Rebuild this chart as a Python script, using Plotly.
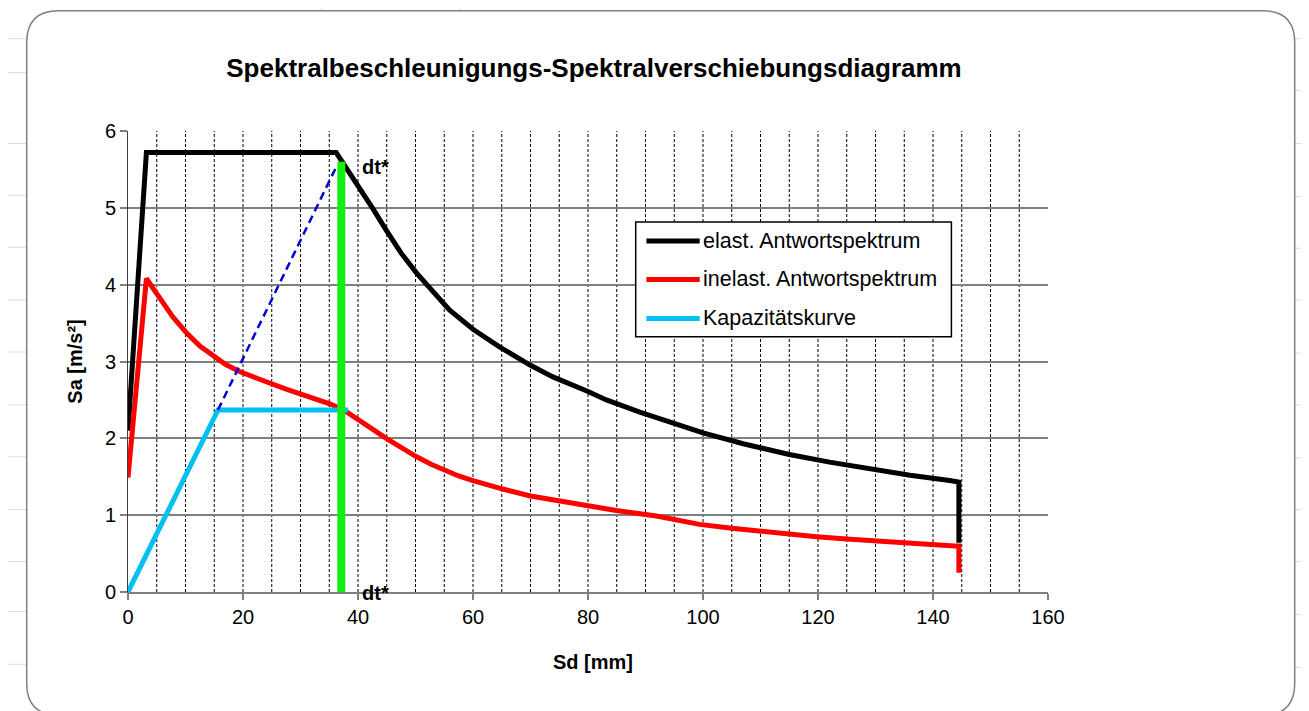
import plotly.graph_objects as go

# ---------------- data ----------------
sd_elastic = [0, 3.2, 36.2, 38.0, 40.0, 42.5, 44.9, 47.5, 50.2, 52.8, 55.9, 60.0, 64.6, 70.0, 73.9, 80.0,
              83.2, 89.0, 95.0, 100, 107, 115, 122, 129.6, 136, 142.9, 144.5, 144.5]
sa_elastic = [2.1, 5.72, 5.72, 5.52, 5.30, 5.00, 4.71, 4.41, 4.15, 3.92, 3.67, 3.42, 3.19, 2.95, 2.80, 2.61,
              2.50, 2.34, 2.19, 2.07, 1.93, 1.79, 1.69, 1.59, 1.52, 1.45, 1.43, 0.64]

sd_inelastic = [0, 3.2, 4.2, 5.5, 6.5, 7.8, 9.0, 10.2, 12.5, 15.4, 17.0, 19.4, 22.0, 24.6, 27.5, 30.4, 33.0,
                35.1, 37.5, 40.9, 42.9, 44.9, 47.5, 50.2, 52.8, 55.4, 57.5, 60, 62.5, 65.2, 70, 75.1, 80,
                84.9, 91.9, 95, 99.4, 105, 109.8, 115, 119.7, 125, 130.2, 137, 143.8, 144.5, 144.5]
sa_inelastic = [1.49, 4.08, 3.97, 3.84, 3.72, 3.58, 3.47, 3.37, 3.20, 3.04, 2.96, 2.87, 2.79, 2.72, 2.64, 2.57, 2.50,
                2.45, 2.37, 2.21, 2.10, 2.00, 1.88, 1.76, 1.66, 1.57, 1.51, 1.45, 1.39, 1.34, 1.25, 1.18, 1.12,
                1.06, 0.99, 0.94, 0.88, 0.83, 0.79, 0.75, 0.72, 0.69, 0.67, 0.63, 0.60, 0.60, 0.25]

sd_capacity = [0, 15.65, 38.3]
sa_capacity = [0, 2.37, 2.37]

sd_dashed = [15.65, 36.2]
sa_dashed = [2.37, 5.53]

sd_dt = [37.1, 37.1]
sa_dt = [0, 5.6]

legend_names = ["elast. Antwortspektrum", "inelast. Antwortspektrum", "Kapazitätskurve"]
x_ticks = [0, 20, 40, 60, 80, 100, 120, 140, 160]
x_grid = [5, 10, 15, 20, 25, 30, 35, 40, 45, 50, 55, 60, 65, 70, 75, 80, 85, 90, 95, 100,
          105, 110, 115, 120, 125, 130, 135, 140, 145, 150, 155]
y_ticks = [0, 1, 2, 3, 4, 5, 6]

title_text = "Spektralbeschleunigungs-Spektralverschiebungsdiagramm"
x_title = "Sd [mm]"
y_title = "Sa [m/s²]"

# ---------------- layout geometry (screen pixels; page body has an 8px margin) ----------------
OFF = 8
W, H = 1309, 711
PL, PR, PT, PB = 128.3, 1048.3, 130.5, 592.5
FONT = "Arial, 'Liberation Sans', sans-serif"


def px(x):
    return (x - PL) / (PR - PL)


def py(y):
    return (PB - y) / (PB - PT)


fig = go.Figure()

fig.add_trace(go.Scatter(x=sd_elastic, y=sa_elastic, mode="lines",
                         line=dict(color="#000000", width=5), name=legend_names[0], showlegend=False))
fig.add_trace(go.Scatter(x=sd_inelastic, y=sa_inelastic, mode="lines",
                         line=dict(color="#ff0000", width=5), name=legend_names[1], showlegend=False))
fig.add_trace(go.Scatter(x=sd_capacity, y=sa_capacity, mode="lines",
                         line=dict(color="#00c0f0", width=5), name=legend_names[2], showlegend=False))
fig.add_trace(go.Scatter(x=sd_dashed, y=sa_dashed, mode="lines",
                         line=dict(color="#0000dd", width=2.5, dash="8px,5px"), showlegend=False))
fig.add_trace(go.Scatter(x=sd_dt, y=sa_dt, mode="lines",
                         line=dict(color="#11ee11", width=8), showlegend=False))

shapes = []
# vertical dashed gridlines (none at 160 in the reference)
for gx in x_grid:
    shapes.append(dict(type="line", xref="x", yref="paper", x0=gx, x1=gx, y0=0, y1=1,
                       line=dict(color="#000000", width=1, dash="3px,2px"), layer="below"))

# spreadsheet background lines
grid_col = "#dcdcdc"
for yy in [38, 72, 143, 195, 247, 300, 352, 405, 457, 510, 562, 612, 665]:
    shapes.append(dict(type="line", xref="paper", yref="paper", x0=px(0), x1=px(27), y0=py(yy), y1=py(yy),
                       line=dict(color=grid_col, width=1), layer="below"))
for yy in [38, 90, 143, 196, 248, 300, 353, 405, 458, 510, 562, 615, 668]:
    shapes.append(dict(type="line", xref="paper", yref="paper", x0=px(1295), x1=px(1320), y0=py(yy), y1=py(yy),
                       line=dict(color=grid_col, width=1), layer="below"))
for xx in [322, 461]:
    shapes.append(dict(type="line", xref="paper", yref="paper", x0=px(xx), x1=px(xx), y0=py(0), y1=py(10),
                       line=dict(color=grid_col, width=1), layer="below"))

# rounded chart frame
L, T, R, B, r = 27, 10, 1295, 716, 32
path = (f"M {px(L + r)},{py(B)} Q {px(L)},{py(B)} {px(L)},{py(B - r)} "
        f"L {px(L)},{py(T + r)} Q {px(L)},{py(T)} {px(L + r)},{py(T)} "
        f"L {px(R - r)},{py(T)} Q {px(R)},{py(T)} {px(R)},{py(T + r)} "
        f"L {px(R)},{py(B - r)} Q {px(R)},{py(B)} {px(R - r)},{py(B)}")
shapes.append(dict(type="path", xref="paper", yref="paper", path=path,
                   line=dict(color="#808080", width=1.5), layer="below"))

# custom legend
lx0, ly0, lx1, ly1 = 636, 221.7, 951.7, 336.7
shapes.append(dict(type="rect", xref="paper", yref="paper", x0=px(lx0), x1=px(lx1), y0=py(ly0), y1=py(ly1),
                   line=dict(color="#000000", width=1.5), fillcolor="white", layer="above"))
leg_colors = ["#000000", "#ff0000", "#00c0f0"]
leg_y = [240.7, 279.3, 318.3]
annotations = []
for name, c, yy in zip(legend_names, leg_colors, leg_y):
    shapes.append(dict(type="line", xref="paper", yref="paper", x0=px(646.7), x1=px(700), y0=py(yy), y1=py(yy),
                       line=dict(color=c, width=5), layer="above"))
    annotations.append(dict(xref="paper", yref="paper", x=px(701), y=py(yy), text=name, showarrow=False,
                            xanchor="left", yanchor="middle", font=dict(family=FONT, size=21.5, color="#000000")))

# dt* labels
annotations.append(dict(x=sd_dt[0], y=sa_dt[1], text="<b>dt*</b>", showarrow=False, xanchor="left",
                        yanchor="middle", xshift=19, yshift=-5, font=dict(family=FONT, size=20, color="#000000")))
annotations.append(dict(x=sd_dt[0], y=sa_dt[0], text="<b>dt*</b>", showarrow=False, xanchor="left",
                        yanchor="middle", xshift=19, yshift=-1, font=dict(family=FONT, size=20, color="#000000")))

# axis titles
annotations.append(dict(xref="paper", yref="paper", x=px(593), y=py(663), text=f"<b>{x_title}</b>",
                        showarrow=False, xanchor="center", yanchor="middle",
                        font=dict(family=FONT, size=20, color="#000000")))
annotations.append(dict(xref="paper", yref="paper", x=px(75), y=py(362), text=f"<b>{y_title}</b>",
                        showarrow=False, xanchor="center", yanchor="middle", textangle=-90,
                        font=dict(family=FONT, size=20, color="#000000")))

fig.update_layout(
    width=W, height=H,
    margin=dict(l=PL - OFF, r=W - (PR - OFF), t=PT - OFF, b=H - (PB - OFF), autoexpand=False),
    paper_bgcolor="white", plot_bgcolor="white",
    title=dict(text=f"<b>{title_text}</b>", x=(594 - OFF) / W, xanchor="center", y=1 - (68 - OFF) / H,
               yanchor="middle", yref="container", xref="container",
               font=dict(family=FONT, size=26, color="#000000")),
    shapes=shapes, annotations=annotations, showlegend=False,
    xaxis=dict(range=[0, 160], tickvals=x_ticks, ticktext=[str(v) for v in x_ticks],
               showgrid=False,
               showline=True, linecolor="#808080", linewidth=1.5,
               ticks="outside", ticklen=6, tickcolor="#808080", tickwidth=1.5,
               tickfont=dict(family=FONT, size=20, color="#000000"), zeroline=False, fixedrange=True),
    yaxis=dict(range=[0, 6], tickvals=y_ticks, ticktext=[str(v) for v in y_ticks],
               showgrid=True, gridcolor="#808080", gridwidth=1.5,
               showline=True, linecolor="#404040", linewidth=1,
               ticks="outside", ticklen=7, tickcolor="#808080", tickwidth=1.5,
               tickfont=dict(family=FONT, size=20, color="#000000"), zeroline=False, fixedrange=True),
)

fig.write_html("out.html")
